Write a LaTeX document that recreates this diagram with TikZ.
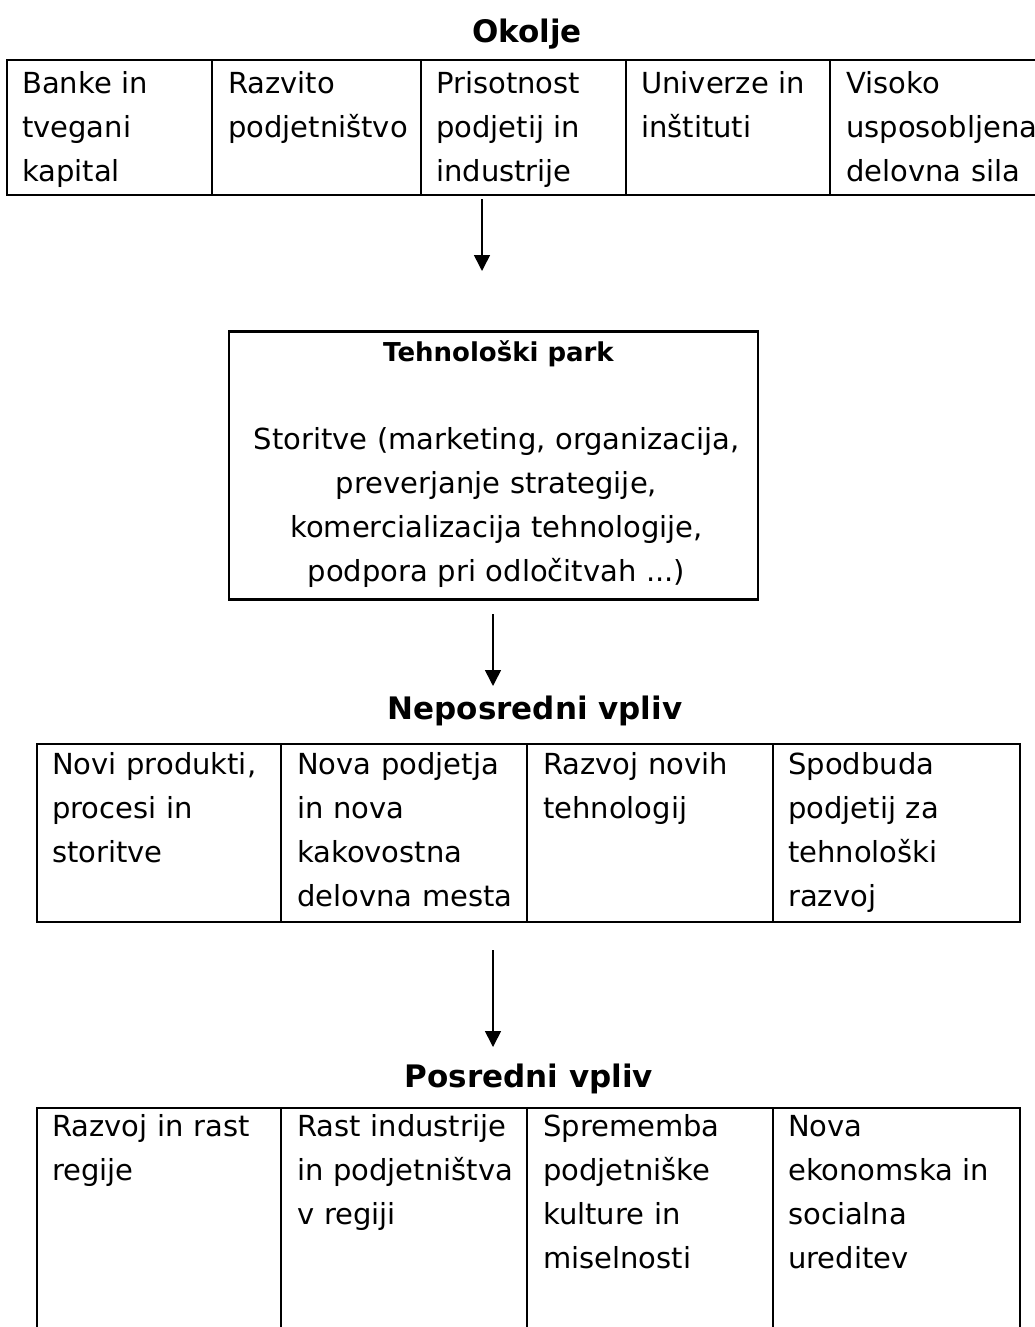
\documentclass[tikz,border=0pt]{standalone}
\usepackage{fontspec}
\setmainfont{DejaVu Sans}
\usetikzlibrary{arrows.meta}
\begin{document}
\begin{tikzpicture}[x=1pt,y=-1pt,
  cell/.style={anchor=base west, inner sep=0pt, text width=240pt, align=left,
    font=\fontsize{29}{44}\selectfont},
  head/.style={anchor=base, inner sep=0pt, font=\fontsize{31}{37}\selectfont\bfseries},
  tab/.style={line width=2.4pt, line cap=rect},
  box/.style={draw, line width=2.4pt, inner sep=0pt},
  arr/.style={-{Triangle[width=16pt,length=16pt]}, line width=1.6pt}]
\useasboundingbox (0,0) rectangle (1035,1327);
\fill[white] (0,0) rectangle (1035,1327);

% ---------- Okolje ----------
\node[head] (okolje) at (527,43) {Okolje};
\draw[tab] (1040,60) -- (7,60) -- (7,195) -- (1040,195);
\foreach \x in {212,421,626,830}
  \draw[tab] (\x,60) -- (\x,195);
\node[cell] (e1) at (22,94)  {Banke in\\tvegani\\kapital};
\node[cell] (e2) at (228,94) {Razvito\\podjetništvo};
\node[cell] (e3) at (436,94) {Prisotnost\\podjetij in\\industrije};
\node[cell] (e4) at (641,94) {Univerze in\\inštituti};
\node[cell] (e5) at (846,94) {Visoko\\usposobljena\\delovna sila};

\coordinate (a1s) at (482,199);
\coordinate (a1e) at (482,271);
\draw[arr] (a1s) -- (a1e);

% ---------- Tehnoloski park ----------
\node[box, minimum width=529pt, minimum height=268pt] (park) at (493.5,465.5) {};
\node[anchor=base, inner sep=0pt, font=\fontsize{26}{44}\selectfont\bfseries]
  (parkt) at (498.5,361) {Tehnološki park};
\node[anchor=base, inner sep=0pt, text width=520pt, align=center,
  font=\fontsize{29}{44}\selectfont] (parkx) at (496.5,449)
  {Storitve (marketing, organizacija,\\preverjanje strategije,\\komercializacija tehnologije,\\podpora pri odločitvah ...)};

\coordinate (a2s) at (493,614);
\coordinate (a2e) at (493,686);
\draw[arr] (a2s) -- (a2e);

% ---------- Neposredni vpliv ----------
\node[head] (nepos) at (535,719) {Neposredni vpliv};
\draw[tab] (37,744) rectangle (1020,922);
\foreach \x in {281,527,773}
  \draw[tab] (\x,744) -- (\x,922);
\node[cell] (n1) at (52,774)  {Novi produkti,\\procesi in\\storitve};
\node[cell] (n2) at (297,774) {Nova podjetja\\in nova\\kakovostna\\delovna mesta};
\node[cell] (n3) at (543,774) {Razvoj novih\\tehnologij};
\node[cell] (n4) at (788,774) {Spodbuda\\podjetij za\\tehnološki\\razvoj};

\coordinate (a3s) at (493,950);
\coordinate (a3e) at (493,1047);
\draw[arr] (a3s) -- (a3e);

% ---------- Posredni vpliv ----------
\node[head] (posr) at (529,1087) {Posredni vpliv};
\draw[tab] (37,1335) -- (37,1108) -- (1020,1108) -- (1020,1335);
\foreach \x in {281,527,773}
  \draw[tab] (\x,1108) -- (\x,1335);
\node[cell] (p1) at (52,1136)  {Razvoj in rast\\regije};
\node[cell] (p2) at (297,1136) {Rast industrije\\in podjetništva\\v regiji};
\node[cell] (p3) at (543,1136) {Sprememba\\podjetniške\\kulture in\\miselnosti};
\node[cell] (p4) at (788,1136) {Nova\\ekonomska in\\socialna\\ureditev};
\end{tikzpicture}
\end{document}
